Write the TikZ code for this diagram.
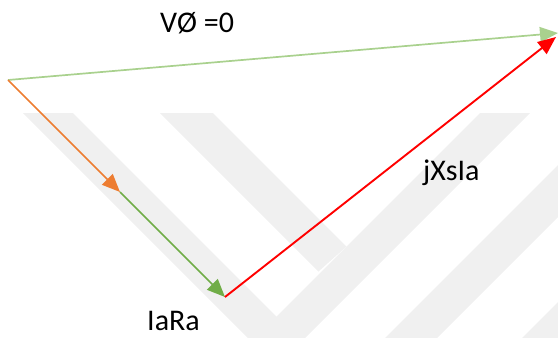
\documentclass[tikz,border=0pt]{standalone}
\usepackage{fontspec}
\setmainfont{Carlito}
\usetikzlibrary{arrows.meta}
\definecolor{orng}{HTML}{ED7D31}
\definecolor{dgreen}{HTML}{70AD47}
\definecolor{lgreen}{HTML}{A9D18E}
\definecolor{wmark}{HTML}{F0F0F0}
\tikzset{
  vec/.style={line width=1.7pt, -{Triangle[length=18pt,width=15pt]}},
  lbl/.style={font=\fontsize{30}{36}\selectfont, inner sep=0pt, anchor=base west},
  wm/.style={fill=wmark, draw=none}
}
\begin{document}
\begin{tikzpicture}[x=1pt,y=-1pt]
\useasboundingbox (0,0) rectangle (558,338);
\begin{scope}
  \clip (0,0) rectangle (558,338);
  \fill[wm] (23,113) -- (73,113) -- (373,413) -- (323,413) -- cycle;
  \fill[wm] (160,113) -- (213,113) -- (346.5,246.5) -- (318.5,271.5) -- cycle;
  \fill[wm] (480,113) -- (530,113) -- (230,413) -- (180,413) -- cycle;
  \fill[wm] (610,113) -- (662,113) -- (362,413) -- (310,413) -- cycle;
  \fill[wm] (747,113) -- (799,113) -- (499,413) -- (447,413) -- cycle;
\end{scope}
\coordinate (O) at (8,80);
\coordinate (A) at (120,192);
\coordinate (B) at (225,297);
\coordinate (T) at (558,33);
\coordinate (R) at (556,37);
\draw[vec, lgreen] (O) -- (T);
\draw[vec, orng] (O) -- (A);
\draw[vec, dgreen] (A) -- (B);
\draw[vec, red, line width=1.9pt] (B) -- (R);
\node[lbl] (v) at (160,32) {VØ =0};
\node[lbl] (i) at (147,330) {IaRa};
\node[lbl] (j) at (423,180) {jXsIa};
\end{tikzpicture}
\end{document}
